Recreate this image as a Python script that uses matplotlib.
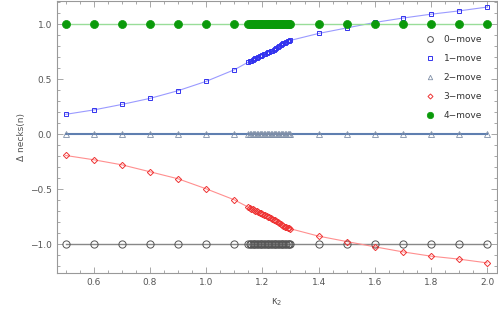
import matplotlib
matplotlib.use("Agg")
import matplotlib.pyplot as plt
from matplotlib.ticker import MultipleLocator

# ---------------- data ----------------
x_sparse_lo = [0.5, 0.6, 0.7, 0.8, 0.9, 1.0, 1.1]
x_dense = [1.15, 1.155, 1.16, 1.165, 1.17, 1.175, 1.18, 1.185, 1.19, 1.195,
           1.20, 1.205, 1.21, 1.215, 1.22, 1.225, 1.23, 1.235, 1.24, 1.245,
           1.25, 1.255, 1.26, 1.265, 1.27, 1.275, 1.28, 1.285, 1.29, 1.295, 1.30]
x_sparse_hi = [1.4, 1.5, 1.6, 1.7, 1.8, 1.9, 2.0]
kappa2 = x_sparse_lo + x_dense + x_sparse_hi

move0 = [-1.0] * len(kappa2)
move2 = [0.0] * len(kappa2)
move4 = [1.0] * len(kappa2)

move1 = ([0.18, 0.22, 0.27, 0.325, 0.395, 0.48, 0.585] +
         [0.655, 0.662, 0.668, 0.675, 0.681, 0.688, 0.694, 0.700, 0.706, 0.712,
          0.718, 0.724, 0.730, 0.736, 0.742, 0.748, 0.754, 0.760, 0.767, 0.775,
          0.784, 0.793, 0.802, 0.811, 0.819, 0.826, 0.832, 0.838, 0.843, 0.848, 0.852] +
         [0.915, 0.965, 1.015, 1.055, 1.09, 1.12, 1.155])

move3 = ([-0.194, -0.233, -0.279, -0.342, -0.406, -0.497, -0.597] +
         [-0.664, -0.671, -0.677, -0.684, -0.690, -0.697, -0.703, -0.709, -0.715, -0.721,
          -0.727, -0.733, -0.739, -0.745, -0.751, -0.757, -0.763, -0.769, -0.776, -0.784,
          -0.793, -0.802, -0.811, -0.820, -0.828, -0.835, -0.841, -0.847, -0.852, -0.856, -0.860] +
         [-0.927, -0.976, -1.024, -1.07, -1.109, -1.136, -1.17])

labels = ["0\u2212move", "1\u2212move", "2\u2212move", "3\u2212move", "4\u2212move"]
xticks = [0.6, 0.8, 1.0, 1.2, 1.4, 1.6, 1.8, 2.0]
yticks = [-1.0, -0.5, 0.0, 0.5, 1.0]

# ---------------- plot ----------------
fig = plt.figure(figsize=(4.98, 3.30), dpi=100)
ax = fig.add_axes([57/498, 1 - 273/330, (497 - 57)/498, (273 - 1)/330])

ax.plot(kappa2, move0, color="#888888", lw=1.0, zorder=2)
ax.plot(kappa2, move0, ls="none", marker="o", ms=5.2, mfc="none", mec="#555555",
        mew=0.7, zorder=3, label=labels[0])

ax.plot(kappa2, move1, color="#9a9aff", lw=0.8, zorder=2)
ax.plot(kappa2, move1, ls="none", marker="s", ms=3.4, mfc="none", mec="#3333ee",
        mew=0.7, zorder=3, label=labels[1])

ax.plot(kappa2, move2, color="#5f7fb0", lw=1.5, zorder=2)
ax.plot(kappa2, move2, ls="none", marker="^", ms=4.0, mfc="none", mec="#8090a8",
        mew=0.6, zorder=3, label=labels[2])

ax.plot(kappa2, move3, color="#ff8f8f", lw=0.8, zorder=2)
ax.plot(kappa2, move3, ls="none", marker="D", ms=3.2, mfc="none", mec="#ee3333",
        mew=0.7, zorder=3, label=labels[3])

ax.plot(kappa2, move4, color="#99dd99", lw=1.0, zorder=2)
ax.plot(kappa2, move4, ls="none", marker="o", ms=5.8, mfc="#0a9a0a", mec="#0a9a0a",
        mew=0.5, zorder=3, label=labels[4])

ax.set_xlim(0.469, 2.035)
ax.set_ylim(-1.262, 1.21)
ax.set_xticks(xticks)
ax.set_xticklabels([f"{v:.1f}" for v in xticks])
ax.set_yticks(yticks)
ax.set_yticklabels([f"{v:.1f}".replace("-", "\u2212") for v in yticks])
ax.xaxis.set_minor_locator(MultipleLocator(0.05))
ax.yaxis.set_minor_locator(MultipleLocator(0.1))
ax.tick_params(which="both", direction="in", top=True, right=True,
               color="#999999", labelcolor="#555555", labelsize=6.5, width=0.6)
ax.tick_params(which="major", length=4)
ax.tick_params(which="minor", length=2)
for s in ax.spines.values():
    s.set_color("#999999")
    s.set_linewidth(0.8)

ax.set_xlabel("\u03ba$_2$", color="#555555", fontsize=7, labelpad=7)
ax.set_ylabel("\u0394 necks(n)", color="#555555", fontsize=6.5, labelpad=3)

leg = ax.legend(loc="upper right", bbox_to_anchor=(0.985, 0.905), frameon=False,
                fontsize=6.5, handlelength=1.0, handletextpad=1.0, labelspacing=1.12,
                markerscale=0.8)
for t in leg.get_texts():
    t.set_color("#333333")

fig.savefig("out.png", dpi=100)
